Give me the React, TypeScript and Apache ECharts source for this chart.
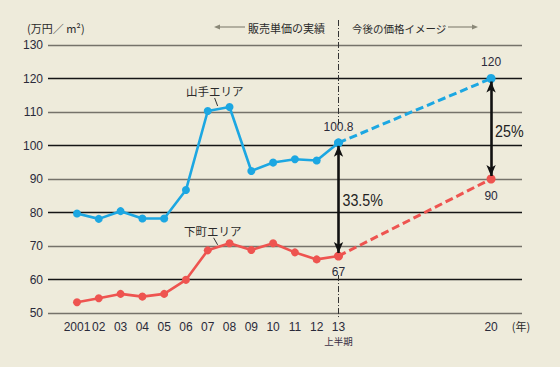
import React, { useEffect, useRef } from "react";
import * as echarts from "echarts";

const years = [2001, 2002, 2003, 2004, 2005, 2006, 2007, 2008, 2009, 2010, 2011, 2012, 2013];
const yamanote = [79.7, 78.1, 80.4, 78.2, 78.2, 86.7, 110.3, 111.5, 92.4, 94.9, 95.9, 95.5, 100.8];
const shitamachi = [53.2, 54.4, 55.7, 54.9, 55.7, 59.9, 68.7, 70.8, 68.8, 70.8, 68.1, 66.0, 67];
const forecastYears = [2013, 2020];
const yamanoteForecast = [100.8, 120];
const shitamachiForecast = [67, 90];
const xTickValues = [2001, 2002, 2003, 2004, 2005, 2006, 2007, 2008, 2009, 2010, 2011, 2012, 2013, 2020];
const gapLabels = ["33.5%", "25%"];

const BLUE = "#1ca7e2";
const RED = "#ee5450";
const BG = "#eeebdb";
const NUM_FONT = "'Liberation Sans Narrow', 'Arial Narrow', 'Liberation Sans', sans-serif";
const JP_FONT = "'Noto Sans CJK JP', sans-serif";

export default function App() {
  const ref = useRef<HTMLDivElement>(null);
  useEffect(() => {
    const el = ref.current!;
    const chart = echarts.init(el, null, { renderer: "svg" });
    const pairs = (xs: number[], ys: number[]) => xs.map((x, i) => [x, ys[i]]);
    const yLast = yamanote[yamanote.length - 1];
    const sLast = shitamachi[shitamachi.length - 1];
    const gap = 0.9;
    const arrowLine = (x: number, lo: number, hi: number) => [
      { coord: [x, lo + gap] },
      { coord: [x, hi - gap] },
    ];
    chart.setOption({
      animation: false,
      backgroundColor: BG,
      grid: { left: 48, right: 38, top: 45, bottom: 54 },
      xAxis: {
        type: "value",
        min: 1999.67,
        max: 2021.42,
        axisLine: { show: false },
        axisTick: { show: false },
        splitLine: { show: false },
        axisLabel: {
          customValues: xTickValues,
          margin: 7,
          color: "#2a2a3a",
          fontSize: 12,
          fontFamily: NUM_FONT,
          lineHeight: 13,
          formatter: (v: number) =>
            v === 2001 ? "2001" : v === 2013 ? "13\n{s|上半期}" : String(v % 100).padStart(2, "0"),
          rich: { s: { fontSize: 9.5, fontFamily: JP_FONT, color: "#3a2f45", lineHeight: 14, padding: [1, 0, 0, 0] } },
        },
      },
      yAxis: {
        type: "value",
        min: 50,
        max: 130,
        interval: 10,
        axisLine: { show: false },
        axisTick: { show: false },
        axisLabel: { margin: 5, color: "#2a2a3a", fontSize: 12, fontFamily: NUM_FONT },
        splitLine: { lineStyle: { color: ["#75726a", "#151515"], width: 1.4 } },
      },
      series: [
        {
          type: "line",
          data: pairs(forecastYears, yamanoteForecast).map((d, i) => ({
            value: d,
            label: { show: i === 1, position: "top", distance: 6 },
          })),
          lineStyle: { color: BLUE, width: 3, type: [8, 4] },
          itemStyle: { color: BLUE },
          symbol: "circle",
          symbolSize: 9,
          label: { color: "#2a2a3a", fontSize: 12, fontFamily: NUM_FONT },
          z: 2,
        },
        {
          type: "line",
          data: pairs(forecastYears, shitamachiForecast).map((d, i) => ({
            value: d,
            label: { show: i === 1, position: "bottom", distance: 6 },
          })),
          lineStyle: { color: RED, width: 3, type: [8, 4] },
          itemStyle: { color: RED },
          symbol: "circle",
          symbolSize: 9,
          label: { color: "#2a2a3a", fontSize: 12, fontFamily: NUM_FONT },
          z: 2,
        },
        {
          type: "line",
          data: pairs(years, yamanote).map((d, i) => ({
            value: d,
            label: { show: i === years.length - 1, position: "top", distance: 6 },
          })),
          lineStyle: { color: BLUE, width: 2.6 },
          itemStyle: { color: BLUE },
          symbol: "circle",
          symbolSize: 8,
          label: { color: "#2a2a3a", fontSize: 12, fontFamily: NUM_FONT },
          z: 3,
        },
        {
          type: "line",
          data: pairs(years, shitamachi).map((d, i) => ({
            value: d,
            label: { show: i === years.length - 1, position: "bottom", distance: 6 },
          })),
          lineStyle: { color: RED, width: 2.6 },
          itemStyle: { color: RED },
          symbol: "circle",
          symbolSize: 8,
          label: { color: "#2a2a3a", fontSize: 12, fontFamily: NUM_FONT },
          z: 3,
          markLine: {
            silent: true,
            symbol: ["arrow", "arrow"],
            symbolSize: [7, 11],
            label: { show: false },
            lineStyle: { color: "#111", width: 2.6, type: "solid" },
            data: [
              arrowLine(forecastYears[0], sLast, yLast),
              arrowLine(forecastYears[1], shitamachiForecast[1], yamanoteForecast[1]),
            ],
          },
        },
      ],
    });

    const px = (x: number, y: number) => chart.convertToPixel({ gridIndex: 0 }, [x, y]) as number[];
    const divTop = px(2013, yLast);
    const divBot = px(2013, sLast);
    const axisBot = px(2013, 50);
    const right = px(2021.42, 50);
    const midA = px(2013, (sLast + yLast) / 2);
    const midB = px(2020, (shitamachiForecast[1] + yamanoteForecast[1]) / 2);
    const yLabelPt = px(2007.5, (yamanote[6] + yamanote[7]) / 2);
    const sLabelPt = px(2007.5, (shitamachi[6] + shitamachi[7]) / 2);
    const dash = [6, 2, 1, 2];
    const txt = (x: number, y: number, text: string, extra: any = {}, tf: any = {}) => ({
      type: "text",
      x,
      y,
      ...tf,
      style: {
        text,
        fill: "#2a2a2a",
        fontSize: 12,
        fontFamily: JP_FONT,
        align: "center",
        verticalAlign: "middle",
        ...extra,
      },
    });
    const pctStyle = { align: "left", fontSize: 17, fontFamily: NUM_FONT, fill: "#222" };
    chart.setOption({
      graphic: [
        {
          type: "line",
          shape: { x1: divTop[0], y1: 20, x2: divTop[0], y2: divTop[1] - 18 },
          style: { stroke: "#333", lineWidth: 1, lineDash: dash },
        },
        {
          type: "line",
          shape: { x1: divBot[0], y1: divBot[1] + 19, x2: divBot[0], y2: axisBot[1] + 5 },
          style: { stroke: "#333", lineWidth: 1, lineDash: dash },
        },
        txt(27, 28, "(万円／ m²)", { align: "left", fontSize: 11 }),
        txt(325, 28, "販売単価の実績", { align: "right", fontSize: 11 }),
        txt(352, 28, "今後の価格イメージ", { align: "left", fontSize: 10.5 }),
        {
          type: "line",
          shape: { x1: 218, y1: 27, x2: 245, y2: 27 },
          style: { stroke: "#8a8878", lineWidth: 1.2 },
        },
        {
          type: "polygon",
          shape: { points: [[214, 27], [220, 24.5], [220, 29.5]] },
          style: { fill: "#8a8878" },
        },
        {
          type: "line",
          shape: { x1: 448, y1: 27, x2: 474, y2: 27 },
          style: { stroke: "#8a8878", lineWidth: 1.2 },
        },
        {
          type: "polygon",
          shape: { points: [[478, 27], [472, 24.5], [472, 29.5]] },
          style: { fill: "#8a8878" },
        },
        txt(0, 0, gapLabels[0], pctStyle, { x: midA[0] + 4, y: midA[1] + 1, scaleX: 0.84 }),
        txt(0, 0, gapLabels[1], pctStyle, { x: midB[0] + 4, y: midB[1] + 2, scaleX: 0.84 }),
        txt(right[0] - 1, axisBot[1] + 13, "(年)", { align: "center", fontSize: 11 }),
        txt(yLabelPt[0] - 4, yLabelPt[1] - 18, "山手エリア", { fontSize: 11.5 }),
        {
          type: "line",
          shape: { x1: yLabelPt[0] - 4, y1: yLabelPt[1] - 11, x2: yLabelPt[0] - 1, y2: yLabelPt[1] - 3 },
          style: { stroke: "#333", lineWidth: 1 },
        },
        txt(sLabelPt[0] - 6, sLabelPt[1] - 16, "下町エリア", { fontSize: 11.5 }),
        {
          type: "line",
          shape: { x1: sLabelPt[0] - 5, y1: sLabelPt[1] - 9, x2: sLabelPt[0] - 1, y2: sLabelPt[1] - 2 },
          style: { stroke: "#333", lineWidth: 1 },
        },
      ],
    });
    return () => chart.dispose();
  }, []);
  return <div ref={ref} style={{ width: 560, height: 367, position: "absolute", left: 0, top: 0 }} />;
}
